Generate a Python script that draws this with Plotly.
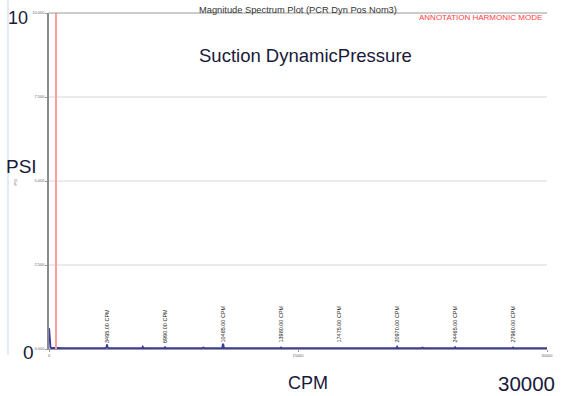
import plotly.graph_objects as go

# Spectrum samples (CPM vs PSI)
spectrum_cpm = [0, 10, 25, 40, 60, 90, 150, 300, 420, 520, 800, 1500, 2500,
                3400, 3470, 3495, 3520, 3590, 5600, 5650, 5700, 6940, 6990, 7040,
                9200, 9300, 9400, 10430, 10485, 10540, 13930, 13980, 14030,
                17425, 17475, 17525, 20920, 20970, 21020, 22400, 22500, 22600,
                24415, 24465, 24515, 27910, 27960, 28010, 30000]
spectrum_psi = [0.62, 0.55, 0.40, 0.18, 0.06, 0.04, 0.03, 0.03, 0.05, 0.03, 0.025, 0.02, 0.02,
                0.02, 0.05, 0.14, 0.05, 0.02, 0.02, 0.06, 0.02, 0.02, 0.05, 0.02,
                0.02, 0.04, 0.02, 0.02, 0.16, 0.02, 0.02, 0.04, 0.02,
                0.02, 0.04, 0.02, 0.02, 0.06, 0.02, 0.02, 0.04, 0.02,
                0.02, 0.05, 0.02, 0.02, 0.04, 0.02, 0.02]

# Harmonic markers of the running speed
harmonic_cpm = [3495, 6990, 10485, 13980, 17475, 20970, 24465, 27960]
harmonic_labels = ["3495.00 CPM", "6990.00 CPM", "10485.00 CPM", "13980.00 CPM",
                   "17475.00 CPM", "20970.00 CPM", "24465.00 CPM", "27960.00 CPM"]

cursor_cpm = 420

y_ticks = [0, 2.5, 5, 7.5, 10]
y_tick_text = ["0.000", "2.500", "5.000", "7.500", "10.000"]
x_ticks = [0, 15000, 30000]
x_tick_text = ["0", "15000", "30000"]

W, H = 561, 396
L, R, T, B = 49, 8, 13, 47
PW, PH = W - L - R, H - T - B
FONT = "Arial, Liberation Sans"


def px(x):
    return (x - L) / PW


def py(y):
    return (H - B - y) / PH


fig = go.Figure()

fig.add_trace(go.Scatter(
    x=spectrum_cpm, y=spectrum_psi, mode="lines",
    line=dict(color="#3c3c9c", width=2), hoverinfo="skip", showlegend=False))

# cursor line
fig.add_shape(type="line", xref="x", yref="paper", x0=cursor_cpm, x1=cursor_cpm,
              y0=0, y1=1, line=dict(color="#ff9c9c", width=2))

# top border
fig.add_shape(type="line", xref="paper", yref="paper", x0=0, x1=1, y0=1, y1=1,
              line=dict(color="#9a9a9a", width=1.2))

# left frame line of the page
fig.add_shape(type="line", xref="paper", yref="paper", x0=px(7.5), x1=px(7.5),
              y0=py(355), y1=py(0), line=dict(color="#dfe5f7", width=1.5))

annotations = []
for f, lab in zip(harmonic_cpm, harmonic_labels):
    annotations.append(dict(x=f, y=0.12, xref="x", yref="y", text=lab,
                            textangle=-90, showarrow=False, yanchor="bottom",
                            xanchor="center",
                            font=dict(family=FONT, size=5.5, color="#1a1a1a")))


def txt(x, y, s, size, color="#1a1a3a", angle=0):
    return dict(x=px(x), y=py(y), text=s, xref="paper", yref="paper",
                xanchor="center", yanchor="middle", showarrow=False,
                textangle=angle, font=dict(family=FONT, size=size, color=color))


annotations += [
    txt(17.5, 18, "10", 18),
    txt(28.5, 352, "0", 19),
    txt(21.5, 166, "PSI", 19),
    txt(309, 55, "Suction DynamicPressure", 18.5),
    txt(311, 383, "CPM", 18),
    txt(532, 383, "30000", 20.5),
    txt(301, 10, "Magnitude Spectrum Plot (PCR Dyn Pos Nom3)", 9.3, "#333333"),
    txt(486, 18, "ANNOTATION HARMONIC MODE", 8, "#ff4040"),
    txt(15, 182, "PSI", 4, "#888888", -90),
]
fig.update_layout(annotations=annotations)

fig.update_layout(
    width=W, height=H,
    margin=dict(l=L, r=R, t=T, b=B),
    paper_bgcolor="white", plot_bgcolor="white",
    showlegend=False,
    xaxis=dict(range=[0, 30000], tickvals=x_ticks, ticktext=x_tick_text,
               showgrid=False, zeroline=False, showline=True, linecolor="#9a9a9a",
               linewidth=1, ticks="outside", ticklen=2, tickcolor="#999999",
               tickfont=dict(family=FONT, size=4, color="#666666")),
    yaxis=dict(range=[0, 10], tickvals=y_ticks, ticktext=y_tick_text,
               showgrid=True, gridcolor="#ebebeb", gridwidth=2, zeroline=False,
               showline=True, linecolor="#8a8a8a", linewidth=1.5,
               ticks="outside", ticklen=2, tickcolor="#999999",
               tickfont=dict(family=FONT, size=4, color="#666666")),
)

fig.write_html("out.html")
